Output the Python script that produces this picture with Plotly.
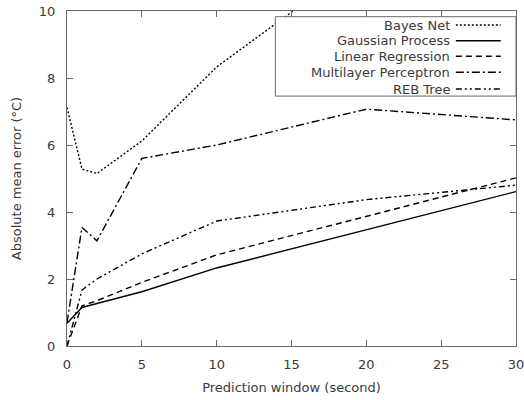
import plotly.graph_objects as go

x_vals = [0, 1, 2, 5, 10, 20, 30]
bayes_net = [7.12, 5.28, 5.15, 6.12, 8.33, 11.6, 13.5]
gaussian_process = [0.68, 1.15, 1.27, 1.62, 2.33, 3.47, 4.61]
linear_regression = [0.0, 1.2, 1.35, 1.9, 2.72, 3.88, 5.02]
multilayer_perceptron = [0.7, 3.54, 3.14, 5.6, 6.0, 7.07, 6.75]
reb_tree = [0.0, 1.67, 2.0, 2.75, 3.73, 4.37, 4.8]

names = ["Bayes Net", "Gaussian Process", "Linear Regression", "Multilayer Perceptron", "REB Tree"]
series = [bayes_net, gaussian_process, linear_regression, multilayer_perceptron, reb_tree]
dashes = ["2px,2px", "solid", "6px,4px", "8px,3px,2px,3px", "6px,3px,2px,3px,2px,3px"]

x_ticks = [0, 5, 10, 15, 20, 25, 30]
y_ticks = [0, 2, 4, 6, 8, 10]

FONT = "DejaVu Sans"
TXT = "#3a3a3a"
AX = "#6a6a6a"

fig = go.Figure()
for name, ys, d in zip(names, series, dashes):
    fig.add_trace(go.Scatter(x=x_vals, y=ys, mode="lines", name=name,
                             line=dict(color="black", width=1.4, dash=d),
                             showlegend=False))

# manual gnuplot-style legend (text left, sample right)
lx0, lx1, ly0, ly1 = 0.464, 1.0, 0.746, 0.983
fig.add_shape(type="rect", xref="paper", yref="paper", x0=lx0, x1=lx1, y0=ly0, y1=ly1,
              fillcolor="white", line=dict(color=AX, width=1), layer="above")
row_y = [0.958, 0.911, 0.865, 0.817, 0.767]
for name, d, yy in zip(names, dashes, row_y):
    fig.add_annotation(xref="paper", yref="paper", x=0.857, y=yy, text=name,
                       showarrow=False, xanchor="right", yanchor="middle",
                       font=dict(family=FONT, size=13, color=TXT))
    fig.add_shape(type="line", xref="paper", yref="paper", x0=0.866, x1=0.966, y0=yy, y1=yy,
                  line=dict(color="black", width=1.4, dash=d), layer="above")

fig.update_layout(
    width=524, height=400,
    margin=dict(l=67, r=8, t=11, b=54, autoexpand=False),
    paper_bgcolor="white", plot_bgcolor="white",
    font=dict(family=FONT, size=13, color=TXT),
    xaxis=dict(range=[0, 30], tickvals=x_ticks, ticks="inside", ticklen=6, tickcolor=AX,
               showline=True, linecolor=AX, linewidth=1, mirror="ticks", showgrid=False,
               zeroline=False, ticklabelstandoff=6, automargin=False, ticklabeloverflow="allow",
               title=dict(text="Prediction window (second)", font=dict(size=13), standoff=12)),
    yaxis=dict(range=[0, 10], tickvals=y_ticks, ticks="inside", ticklen=6, tickcolor=AX,
               showline=True, linecolor=AX, linewidth=1, mirror="ticks", showgrid=False,
               zeroline=False, ticklabelstandoff=8, automargin=False, ticklabeloverflow="allow",
               title=dict(text="Absolute mean error (°C)", font=dict(size=13), standoff=14)),
)

fig.write_html("out.html")
